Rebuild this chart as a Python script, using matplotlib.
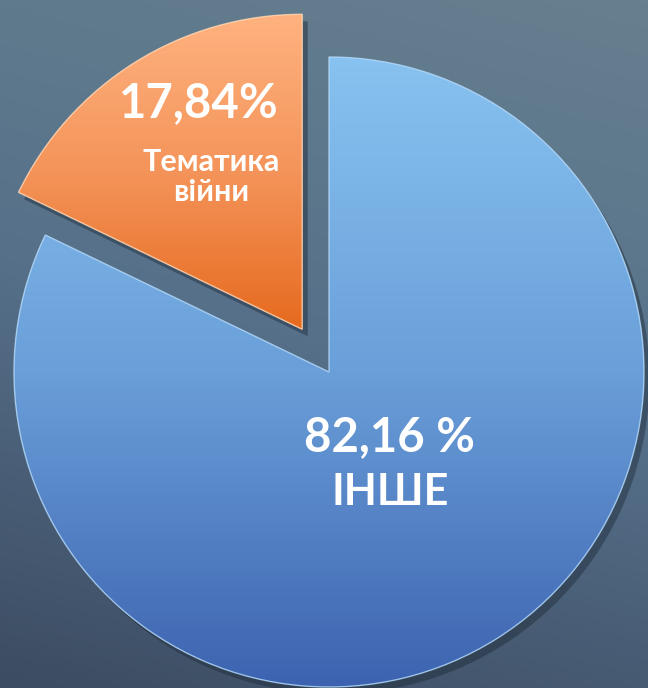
import numpy as np
import matplotlib
matplotlib.use("Agg")
import matplotlib.pyplot as plt
from matplotlib.colors import LinearSegmentedColormap
from matplotlib.patches import PathPatch
import matplotlib.patheffects as pe

# ---- data ----
labels = ["Тематика\nвійни", "ІНШЕ"]
values = [17.84, 82.16]
value_texts = ["17,84%", "82,16 %"]
explode_frac = [0.16, 0.0]

W, H = 648, 688
fig = plt.figure(figsize=(W / 100, H / 100), dpi=100)
ax = fig.add_axes([0, 0, 1, 1])

cx, cy, R = 329, H - 372, 315

# background gradient (row 0 = top of the picture)
yy, xx = np.mgrid[0:1:200j, 0:1:200j]
t = 0.8 * yy + 0.2 * (1 - xx)
bg_cmap = LinearSegmentedColormap.from_list("bg", ["#66808F", "#56708A", "#3C4C62"])
ax.imshow(t, cmap=bg_cmap, extent=[0, W, 0, H], origin="upper", aspect="auto", zorder=0)

wedges, _ = ax.pie(values, explode=[e * R for e in explode_frac], startangle=90,
                   counterclock=True, center=(cx, cy), radius=R, frame=True,
                   colors=["#F08A4B", "#5F94D4"],
                   wedgeprops=dict(linewidth=0, zorder=1))

grads = [["#FFB27F", "#F4945A", "#E66A1F"], ["#87C2F0", "#6A9FD9", "#3D63B0"]]
edge_cols = ["#FFD9B8", "#B5DAFA"]
for w, g, ec in zip(wedges, grads, edge_cols):
    w.set_path_effects([pe.SimplePatchShadow(offset=(4, -5), shadow_rgbFace="#1E2A38", alpha=0.45), pe.Normal()])
    cm = LinearSegmentedColormap.from_list("g", g)
    grad = np.linspace(0, 1, 256).reshape(-1, 1)
    ext = w.get_path().get_extents()
    im = ax.imshow(grad, cmap=cm, extent=[0, W, ext.y0, ext.y1], origin="upper", aspect="auto", zorder=2)
    im.set_clip_path(w)
    outline = PathPatch(w.get_path(), transform=w.get_transform(), fc="none", ec=ec, lw=1.0, alpha=0.8, zorder=3)
    ax.add_patch(outline)
ax.set_xlim(0, W)
ax.set_ylim(0, H)
ax.set_aspect("auto")
ax.axis("off")

font = "Lato"
ax.text(199, H - 103, value_texts[0], color="white", fontsize=34, fontweight="bold",
        family=font, ha="center", va="center", zorder=5)
ax.text(211, H - 177, labels[0], color="white", fontsize=22, fontweight="bold",
        family=font, ha="center", va="center", linespacing=1.05, zorder=5)
ax.text(389, H - 437, value_texts[1], color="white", fontsize=34, fontweight="bold",
        family=font, ha="center", va="center", zorder=5)
ax.text(390, H - 492, labels[1], color="white", fontsize=31, fontweight="bold",
        family=font, ha="center", va="center", zorder=5)

fig.savefig("out.png", dpi=100)
